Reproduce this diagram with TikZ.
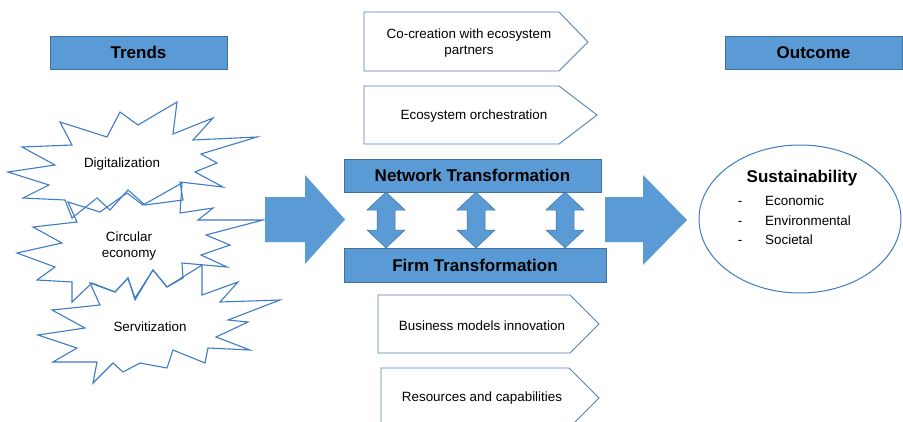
\documentclass[tikz,border=0pt]{standalone}
\usepackage{fontspec}
\setmainfont{Liberation Sans}
\definecolor{boxfill}{RGB}{91,155,213}
\definecolor{boxline}{RGB}{65,113,156}
\definecolor{starline}{RGB}{62,124,196}
\definecolor{pentline}{RGB}{84,130,180}
\tikzset{
  bluebox/.style={fill=boxfill, draw=boxline, line width=0.8pt},
  pent/.style={draw=pentline, fill=white, line width=0.9pt},
  star/.style={draw=starline, line width=1.1pt, line join=miter},
  smalltext/.style={font=\fontsize{13.4}{15.5}\selectfont, align=center, inner sep=0pt},
  headtext/.style={font=\bfseries\fontsize{17}{19}\selectfont, inner sep=0pt},
}
\begin{document}
\begin{tikzpicture}[x=1pt,y=-1pt]
\useasboundingbox (0,0) rectangle (903,421);
\clip (0,0) rectangle (903,421);
\fill[white] (0,0) rectangle (903,421);

% headings
\node[bluebox, minimum width=177pt, minimum height=33pt, inner sep=0pt] (trends) at (138.5,52.5) {};
\node[headtext] (trendsT) at (trends.center) {Trends};
\node[bluebox, minimum width=177pt, minimum height=33pt, inner sep=0pt] (outcome) at (813.5,52.5) {};
\node[headtext] (outcomeT) at (outcome.center) {Outcome};

% stars
\draw[star] (8,172) -- (55,165) -- (22,147) -- (72,145) -- (60,122) -- (107,137) -- (120,112) -- (138,125) -- (177,102) -- (173,134) -- (213,118) -- (193,140) -- (257,137) -- (201,154) -- (217,163) -- (195,172) -- (223,187) -- (180,182) -- (183,200) -- (145,205) -- (128,190) -- (110,210) -- (97,198) -- (72,218) -- (65,200) -- (23,198) -- (49,185) -- cycle;
\draw[star] (17,253) -- (62,243) -- (33,227) -- (77,222) -- (68,202) -- (100,212) -- (127,193) -- (143,205) -- (182,183) -- (180,213) -- (213,208) -- (198,220) -- (263,220) -- (206,235) -- (230,245) -- (201,255) -- (227,267) -- (182,263) -- (183,278) -- (167,287) -- (153,270) -- (135,298) -- (128,278) -- (115,292) -- (92,283) -- (72,302) -- (72,282) -- (37,280) -- (55,267) -- cycle;
\draw[star] (38,335) -- (85,328) -- (52,310) -- (100,305) -- (90,283) -- (115,292) -- (128,278) -- (135,300) -- (153,270) -- (167,287) -- (202,265) -- (202,295) -- (238,282) -- (220,302) -- (280,300) -- (228,320) -- (248,322) -- (216,337) -- (250,350) -- (208,348) -- (205,363) -- (173,350) -- (167,368) -- (140,363) -- (123,372) -- (113,363) -- (93,383) -- (97,362) -- (53,362) -- (77,348) -- cycle;
\node[smalltext] (dig) at (122,164) {Digitalization};
\node[smalltext] (circ) at (129,246) {Circular\\economy};
\node[smalltext] (serv) at (150,327) {Servitization};

% big arrows
\fill[boxfill] (265,197) -- (305,197) -- (305,175) -- (345,219.5) -- (305,264) -- (305,242) -- (265,242) -- cycle;
\fill[boxfill] (605,197) -- (643,197) -- (643,175) -- (687,220) -- (643,265) -- (643,242) -- (605,242) -- cycle;

% pentagons
\draw[pent] (364,12) -- (559,12) -- (588,42) -- (559,71) -- (364,71) -- cycle;
\node[smalltext] (cocreation) at (469,43) {Co-creation with ecosystem\\partners};
\draw[pent] (364,86) -- (559,86) -- (597,115) -- (559,144) -- (364,144) -- cycle;
\node[smalltext] (orch) at (474,116) {Ecosystem orchestration};
\draw[pent] (378,295) -- (570,295) -- (599,324) -- (570,353) -- (378,353) -- cycle;
\node[smalltext] (bmi) at (482,326) {Business models innovation};
\draw[pent] (381,368) -- (569,368) -- (599,398) -- (569,428) -- (381,428) -- cycle;
\node[smalltext] (rc) at (482,398) {Resources and capabilities};

% transformation boxes
\node[bluebox, minimum width=257pt, minimum height=33pt, inner sep=0pt] (network) at (472.5,175.5) {};
\node[headtext] (networkT) at (network.center) {Network Transformation};
\node[bluebox, minimum width=262pt, minimum height=34pt, inner sep=0pt] (firm) at (475,265) {};
\node[headtext] (firmT) at (firm.center) {Firm Transformation};

% double arrows
\foreach \cx in {386,476,565}{
  \draw[fill=boxfill, draw=boxline, line width=0.5pt] (\cx,192) -- (\cx+19,210) -- (\cx+9,210) -- (\cx+9,230) -- (\cx+19,230) -- (\cx,248) -- (\cx-19,230) -- (\cx-9,230) -- (\cx-9,210) -- (\cx-19,210) -- cycle;
}

% outcome ellipse
\draw[draw=starline, line width=1pt] (800,219) ellipse [x radius=101pt, y radius=74pt];
\node[headtext] (sust) at (802,178) {Sustainability};
\node[smalltext, anchor=base west] (eco) at (765,205) {Economic};
\node[smalltext, anchor=base west] (env) at (765,225) {Environmental};
\node[smalltext, anchor=base west] (soc) at (765,244) {Societal};
\node[smalltext, anchor=base] (d1) at (740,205) {-};
\node[smalltext, anchor=base] (d2) at (740,225) {-};
\node[smalltext, anchor=base] (d3) at (740,244) {-};
\end{tikzpicture}
\end{document}
